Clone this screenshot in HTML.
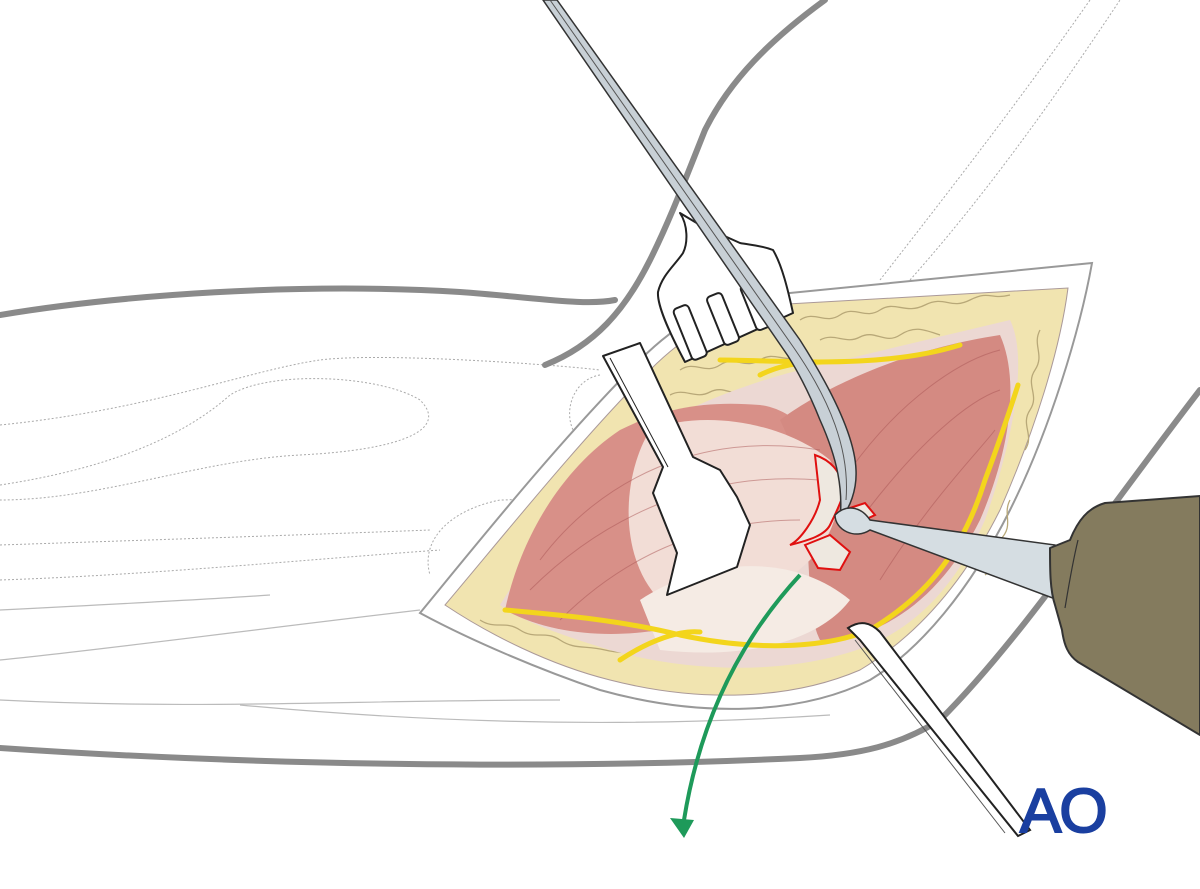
<!DOCTYPE html>
<html><head><meta charset="utf-8"><style>html,body{margin:0;padding:0;background:#fff;width:1200px;height:889px;overflow:hidden}</style></head>
<body>
<svg width="1200" height="889" viewBox="0 0 1200 889" xmlns="http://www.w3.org/2000/svg">
<rect width="1200" height="889" fill="#fff"/>
<g fill="none" stroke="#aaa" stroke-width="1" stroke-dasharray="2,2">
<path d="M0 425 C150 410 250 370 320 360 C380 352 560 365 600 370"/>
<path d="M0 485 C100 470 180 440 230 395 C270 370 380 375 420 400 C450 430 400 450 300 455 C200 460 100 500 0 500"/>
<path d="M0 545 C150 540 300 535 430 530"/>
<path d="M0 580 C150 575 300 560 440 550"/>
<path d="M880 280 C950 190 1020 100 1090 0"/>
<path d="M910 280 C990 190 1060 90 1120 0"/>
<path d="M600 375 C570 380 560 420 580 440 C600 470 560 500 500 500 C450 510 420 540 430 575"/>
</g>
<g fill="none" stroke="#bbb" stroke-width="1.2">
<path d="M0 610 C100 605 200 600 270 595"/>
<path d="M0 660 C100 650 250 630 420 610"/>
<path d="M0 700 C200 710 350 700 560 700"/>
<path d="M240 705 C400 720 600 730 830 715"/>
</g>
<g fill="none" stroke="#8a8a8a" stroke-width="6" stroke-linecap="round">
<path d="M0 315 C120 295 300 282 460 292 C540 298 585 306 615 300"/>
<path d="M825 0 C770 40 730 80 705 130 C685 180 670 220 650 260 C625 310 595 345 545 365"/>
<path d="M0 748 C250 765 550 770 800 758 C860 755 900 745 940 720 C1020 640 1100 520 1200 390"/>
</g>
<path d="M420 613 C480 540 560 440 640 360 C680 320 720 300 760 296 L1092 263 C1080 330 1050 430 1010 510 C970 590 920 650 870 680 C800 715 700 718 600 690 C540 670 470 640 420 613 Z" fill="#fff" stroke="#999" stroke-width="2"/>
<path d="M445 605 C500 540 580 440 650 370 C690 330 730 310 770 305 L1068 288 C1060 350 1035 430 1000 510 C960 590 910 640 860 670 C790 700 700 703 610 680 C550 665 490 635 445 605 Z" fill="#f1e4b0" stroke="#a99" stroke-width="1"/>
<g fill="none" stroke="#b8a878" stroke-width="1.3">
<path d="M680 370 c15 -10 25 5 40 -5 s25 5 40 -5 s25 5 45 -5"/>
<path d="M670 395 c15 -8 25 5 40 -3 s25 8 40 -2"/>
<path d="M800 320 c15 -10 25 5 40 -5 s25 5 40 -5 s25 5 45 -5 s25 5 45 -5 s20 0 40 -5"/>
<path d="M820 340 c15 -8 25 5 40 -3 s25 8 40 -2 s25 -5 40 0"/>
<path d="M1040 330 c-8 15 5 25 -5 40 s5 25 -5 40 s5 25 -5 40"/>
<path d="M480 620 c15 10 25 0 40 10 s25 0 40 10 s25 5 45 10 s25 0 40 5 s25 0 40 5 s25 -5 40 -5 s25 -5 40 -10"/>
<path d="M1010 500 c-8 15 5 25 -10 40 s0 25 -15 35"/>
</g>
<path d="M500 605 C540 540 600 470 650 430 C700 400 760 380 800 370 L1010 320 C1030 360 1010 450 985 520 C950 600 900 640 840 655 C770 675 680 670 610 650 C560 635 520 620 500 605 Z" fill="#ecd8d3"/>
<path d="M505 610 C520 540 560 470 620 430 C660 410 700 400 760 405 C800 410 830 450 830 500 C810 560 760 600 700 620 C640 640 560 640 505 610 Z" fill="#d89088"/>
<path d="M780 420 C820 390 900 350 1000 335 C1020 380 1010 450 980 520 C940 600 880 640 820 640 C800 600 820 500 780 420 Z" fill="#d48a82"/>
<path d="M650 430 C700 410 780 420 830 460 C850 500 830 540 810 560 C770 600 700 620 660 600 C620 560 620 480 650 430 Z" fill="#f2ddd6"/>
<path d="M640 600 C700 560 790 550 850 600 C820 640 750 660 660 650 Z" fill="#f5ebe4"/>
<g fill="none" stroke="#a55" stroke-width="1" opacity="0.5">
<path d="M540 560 C600 480 700 430 820 450"/><path d="M530 590 C600 520 700 470 820 480"/>
<path d="M560 620 C620 560 700 520 800 520"/><path d="M850 470 C900 400 960 360 1000 350"/>
<path d="M860 520 C920 440 970 400 1000 390"/><path d="M880 580 C930 500 980 450 995 430"/>
</g>
<g fill="none" stroke="#f3d51c" stroke-width="5" stroke-linecap="round">
<path d="M505 610 C560 615 620 620 680 635 C750 650 820 650 870 630 C920 600 960 560 985 480 C1000 440 1010 410 1018 385"/>
<path d="M620 660 C650 640 680 630 700 632"/>
<path d="M720 360 C780 360 880 370 960 345"/>
<path d="M760 375 C780 365 800 362 820 362"/>
</g>
<g fill="#eee8e0" stroke="#e01010" stroke-width="2">
<path d="M815 455 C830 460 840 470 845 490 C840 505 835 515 830 525 C825 535 810 540 790 545 C800 540 815 520 820 500 Z"/>
<path d="M805 545 L830 535 L850 552 L840 570 L818 568 Z"/>
<path d="M850 508 L865 503 L875 515 L860 522 Z"/>
</g>
<!-- rake shaft -->
<path d="M603 356 L640 343 L693 457 L720 470 L737 497 L750 525 L737 567 L667 595 L677 553 L653 493 L663 467 Z" fill="#fff" stroke="#222" stroke-width="2" stroke-linejoin="round"/>
<path d="M610 358 L668 467" stroke="#222" stroke-width="1"/>
<!-- rake head -->
<path d="M680 213 C688 225 688 243 683 253 C675 265 662 275 658 292 C657 305 668 330 685 362 L793 313 C788 290 782 265 773 250 C760 245 750 245 740 243 L700 225 Z" fill="#fff" stroke="#222" stroke-width="2" stroke-linejoin="round"/>
<g fill="#fff" stroke="#222" stroke-width="2">
<rect x="682" y="305" width="16" height="55" rx="4" transform="rotate(-22 690 332)"/>
<rect x="715" y="293" width="16" height="52" rx="4" transform="rotate(-22 723 319)"/>
<rect x="748" y="282" width="16" height="48" rx="4" transform="rotate(-22 756 306)"/>
</g>
<!-- long forceps -->
<path d="M543 0 L557 0 L800 340 C835 395 855 440 856 470 C857 490 850 508 840 520 C843 490 838 460 820 420 C812 400 800 375 788 356 Z" fill="#c8d0d6" stroke="#333" stroke-width="1.5"/>
<path d="M550 0 L794 348 C830 400 850 450 846 500" fill="none" stroke="#555" stroke-width="1"/>
<!-- lower retractor -->
<path d="M848 628 C860 620 870 622 880 632 L1030 830 L1018 836 L860 640 Z" fill="#fff" stroke="#222" stroke-width="2"/>
<path d="M855 640 L1005 833" stroke="#555" stroke-width="1"/>
<!-- drill -->
<path d="M835 515 C845 505 860 505 870 520 L1055 545 L1058 600 L870 530 C855 540 835 530 835 515 Z" fill="#d5dde2" stroke="#333" stroke-width="1.5"/>
<path d="M1050 548 L1070 540 C1078 520 1088 508 1105 503 L1200 496 L1200 735 L1078 662 C1068 655 1064 645 1062 630 L1055 605 C1050 590 1050 570 1050 548 Z" fill="#847b5e" stroke="#333" stroke-width="2" stroke-linejoin="round"/>
<path d="M1078 540 C1072 565 1068 590 1065 608" fill="none" stroke="#333" stroke-width="1.2"/>
<path d="M800 575 C740 640 700 720 684 820" fill="none" stroke="#1e9a5a" stroke-width="4"/>
<path d="M670 818 L684 838 L694 820 Z" fill="#1e9a5a"/>
<text x="1020" y="832" font-family="Liberation Sans, sans-serif" font-size="62" fill="#1a3fa0" stroke="#1a3fa0" stroke-width="2" letter-spacing="-2">AO</text>
</svg>
</body></html>
